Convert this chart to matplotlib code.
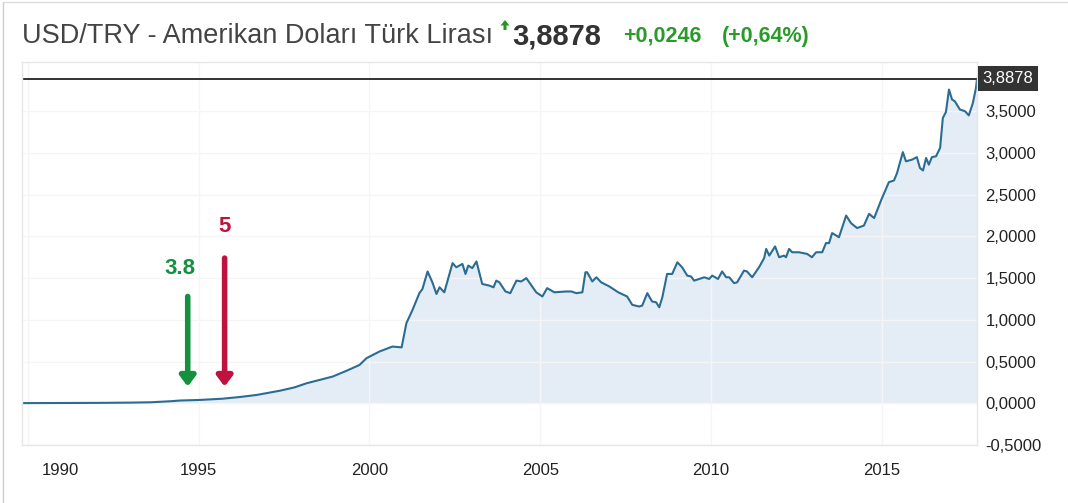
import matplotlib
matplotlib.use("Agg")
import matplotlib.pyplot as plt
import matplotlib.transforms as mtransforms
from matplotlib.ticker import FuncFormatter
from matplotlib.lines import Line2D
from matplotlib.patches import Polygon

# USD/TRY, decimal year -> rate
years = [
    1989.83, 1991.0, 1992.1, 1993.0, 1993.6, 1994.2, 1994.45, 1995.03, 1995.7, 1996.2,
    1996.7, 1997.37, 1997.8, 1998.16, 1998.63, 1998.92, 1999.33, 1999.71, 1999.91, 2000.29,
    2000.67, 2000.94, 2001.08, 2001.26, 2001.46, 2001.55, 2001.70, 2001.84, 2001.96, 2002.05,
    2002.19, 2002.43, 2002.54, 2002.72, 2002.81, 2002.89, 2003.01, 2003.13, 2003.30, 2003.51,
    2003.63, 2003.71, 2003.80, 2003.98, 2004.12, 2004.30, 2004.44, 2004.59, 2004.88, 2005.06,
    2005.20, 2005.41, 2005.76, 2005.91, 2006.05, 2006.23, 2006.32, 2006.37, 2006.52, 2006.64,
    2006.78, 2007.02, 2007.28, 2007.54, 2007.69, 2007.89, 2007.98, 2008.13, 2008.27, 2008.39,
    2008.48, 2008.57, 2008.71, 2008.86, 2009.01, 2009.15, 2009.30, 2009.41, 2009.50, 2009.65,
    2009.80, 2009.94, 2010.03, 2010.20, 2010.32, 2010.44, 2010.53, 2010.67, 2010.76, 2010.96,
    2011.05, 2011.20, 2011.40, 2011.55, 2011.61, 2011.70, 2011.87, 2011.99, 2012.13, 2012.19,
    2012.28, 2012.37, 2012.57, 2012.81, 2012.95, 2013.07, 2013.25, 2013.36, 2013.45, 2013.54,
    2013.74, 2013.95, 2014.09, 2014.27, 2014.47, 2014.62, 2014.77, 2014.97, 2015.20, 2015.35,
    2015.44, 2015.61, 2015.70, 2015.88, 2016.02, 2016.11, 2016.20, 2016.29, 2016.37, 2016.46,
    2016.58, 2016.70, 2016.78, 2016.87, 2016.96, 2017.05, 2017.13, 2017.28, 2017.43, 2017.54,
    2017.66, 2017.75, 2017.78,
]
rates = [
    0.002, 0.003, 0.005, 0.008, 0.012, 0.025, 0.033, 0.040, 0.055, 0.075,
    0.10, 0.15, 0.19, 0.24, 0.29, 0.32, 0.39, 0.46, 0.54, 0.62,
    0.68, 0.67, 0.96, 1.12, 1.32, 1.37, 1.58, 1.45, 1.31, 1.39,
    1.33, 1.68, 1.63, 1.67, 1.55, 1.65, 1.62, 1.70, 1.43, 1.41,
    1.39, 1.47, 1.45, 1.34, 1.32, 1.47, 1.46, 1.50, 1.33, 1.28,
    1.38, 1.33, 1.34, 1.34, 1.32, 1.33, 1.57, 1.57, 1.46, 1.51,
    1.45, 1.40, 1.33, 1.28, 1.18, 1.16, 1.17, 1.32, 1.22, 1.21,
    1.15, 1.27, 1.55, 1.55, 1.69, 1.63, 1.53, 1.52, 1.47, 1.49,
    1.51, 1.49, 1.53, 1.49, 1.58, 1.51, 1.51, 1.44, 1.45, 1.59,
    1.58, 1.51, 1.63, 1.74, 1.85, 1.77, 1.88, 1.75, 1.77, 1.75,
    1.85, 1.81, 1.81, 1.79, 1.75, 1.81, 1.81, 1.92, 1.92, 2.04,
    1.99, 2.25, 2.16, 2.10, 2.13, 2.27, 2.22, 2.43, 2.65, 2.67,
    2.76, 3.01, 2.90, 2.92, 2.95, 2.82, 2.79, 2.94, 2.86, 2.95,
    2.96, 3.06, 3.42, 3.49, 3.76, 3.64, 3.62, 3.52, 3.50, 3.45,
    3.60, 3.78, 3.8878,
]
last_rate = 3.8878
change = "+0,0246"
change_pct = "(+0,64%)"
tick_years = [1990, 1995, 2000, 2005, 2010, 2015]
y_ticks = [-0.5, 0.0, 0.5, 1.0, 1.5, 2.0, 2.5, 3.0, 3.5]


def tr_num(v):
    return f"{v:.4f}".replace(".", ",")


plt.rcParams["font.family"] = ["Liberation Sans", "DejaVu Sans"]

fig = plt.figure(figsize=(10.68, 5.03), dpi=100)
ax = fig.add_axes([0.0206, 0.1153, 0.9148 - 0.0206, 0.8767 - 0.1153])

line_color = "#2b6c93"
ax.fill_between(years, rates, 0, color="#e4edf5", linewidth=0)
ax.plot(years, rates, color=line_color, linewidth=1.5)
ax.axhline(last_rate, color="#222222", linewidth=1.3)

ax.set_xlim(years[0], years[-1])
ax.set_ylim(-0.5, 4.09)

ax.set_xticks(tick_years)
ax.set_xticklabels([str(y) for y in tick_years])
ax.set_yticks(y_ticks)
ax.yaxis.set_major_formatter(FuncFormatter(lambda v, _: tr_num(v)))
ax.yaxis.tick_right()
ax.tick_params(axis="y", length=0, pad=6, labelsize=12, labelcolor="#222222")
ax.tick_params(axis="x", length=0, pad=13, labelsize=12, labelcolor="#222222")
for lbl in ax.get_yticklabels():
    lbl.set_horizontalalignment("left")
# first year label is pushed inside the plot, like the original
first = ax.get_xticklabels()[0]
first.set_transform(first.get_transform() + mtransforms.ScaledTranslation(0.33, 0, fig.dpi_scale_trans))

ax.grid(True, color="#f5f5f5", linewidth=1)
for side in ax.spines.values():
    side.set_color("#e6e6e6")
    side.set_linewidth(1)

# current value badge
badge_tf = mtransforms.blended_transform_factory(ax.transAxes, ax.transData)
ax.text(1.006, last_rate, tr_num(last_rate), transform=badge_tf,
        ha="left", va="center", fontsize=12, color="white",
        bbox=dict(boxstyle="square,pad=0.3", fc="#333333", ec="none"))

# hand-drawn style arrows
ax.annotate("", xy=(1994.68, 0.20), xytext=(1994.68, 1.28),
            arrowprops=dict(arrowstyle="-|>,head_width=0.45,head_length=0.6",
                            color="#14913f", lw=4, shrinkA=0, shrinkB=0))
ax.text(1994.45, 1.62, "3.8", color="#14913f", fontsize=16, fontweight="bold",
        ha="center", va="center")
ax.annotate("", xy=(1995.76, 0.20), xytext=(1995.76, 1.74),
            arrowprops=dict(arrowstyle="-|>,head_width=0.45,head_length=0.6",
                            color="#c0123f", lw=4, shrinkA=0, shrinkB=0))
ax.text(1995.76, 2.12, "5", color="#c0123f", fontsize=16, fontweight="bold",
        ha="center", va="center")

# header line
fig.text(0.0206, 0.928, "USD/TRY - Amerikan Doları Türk Lirası", fontsize=19.5,
         color="#444444", ha="left", va="center")
# small green "up" icon (pixel coordinates, origin bottom-left)
up_icon = [(505, 483), (509.5, 477.5), (506.5, 477.5), (506.5, 473),
           (503.5, 473), (503.5, 477.5), (500.5, 477.5)]
fig.patches.append(Polygon(up_icon, closed=True, transform=None,
                           facecolor="#1f9a1f", edgecolor="none", figure=fig))
fig.text(0.480, 0.928, tr_num(last_rate), fontsize=21, fontweight="bold",
         color="#333333", ha="left", va="center")
fig.text(0.583, 0.928, change, fontsize=15.5, fontweight="bold", color="#2a9a2a",
         ha="left", va="center")
fig.text(0.676, 0.928, change_pct, fontsize=15.5, fontweight="bold", color="#2a9a2a",
         ha="left", va="center")

# card border
fig.add_artist(Line2D([0.003, 0.003], [0, 0.996], transform=fig.transFigure, color="#cccccc", lw=1))
fig.add_artist(Line2D([0.003, 1], [0.996, 0.996], transform=fig.transFigure, color="#dddddd", lw=1))

plt.savefig("out.png", dpi=100)
plt.close()
